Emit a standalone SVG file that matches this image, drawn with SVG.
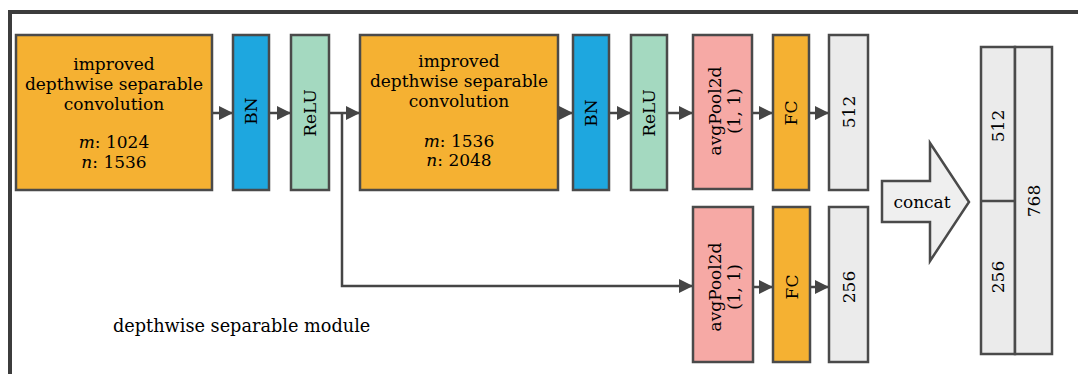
<svg xmlns="http://www.w3.org/2000/svg" width="1078" height="374" viewBox="0 0 1078 374">
<style>
.b{stroke:#4a4a4a;stroke-width:2.5}
.or{fill:#F5B132}.bl{fill:#1EA7DF}.gr{fill:#A4D9C0}.pk{fill:#F6A9A5}.gy{fill:#EBEBEB}
text{font-family:"DejaVu Serif","Liberation Serif",serif;font-size:17px;fill:#000}
.c{text-anchor:middle}
.it{font-style:italic}
.ln{stroke:#454545;stroke-width:2.5;fill:none}
</style>
<defs>
<marker id="ah" markerUnits="userSpaceOnUse" markerWidth="15" markerHeight="15" refX="14" refY="7.5" orient="auto">
<path d="M0,0.5 L14,7.5 L0,14.5 z" fill="#454545"/>
</marker>
</defs>
<g id="frame"><path d="M10,374 V12 H1078" fill="none" stroke="#3c3c3c" stroke-width="4"/></g>
<g id="connectors">
<line class="ln" x1="212" y1="113" x2="233" y2="113" marker-end="url(#ah)"/>
<line class="ln" x1="269" y1="113" x2="291" y2="113" marker-end="url(#ah)"/>
<line class="ln" x1="329" y1="113" x2="360" y2="113" marker-end="url(#ah)"/>
<line class="ln" x1="558" y1="113" x2="573" y2="113" marker-end="url(#ah)"/>
<line class="ln" x1="609" y1="113" x2="631" y2="113" marker-end="url(#ah)"/>
<line class="ln" x1="667" y1="113" x2="693" y2="113" marker-end="url(#ah)"/>
<line class="ln" x1="752" y1="113" x2="773" y2="113" marker-end="url(#ah)"/>
<line class="ln" x1="809" y1="113" x2="829" y2="113" marker-end="url(#ah)"/>
<path class="ln" d="M342,113 V286 H693" marker-end="url(#ah)"/>
<line class="ln" x1="753" y1="287" x2="773" y2="287" marker-end="url(#ah)"/>
<line class="ln" x1="810" y1="287" x2="829" y2="287" marker-end="url(#ah)"/>
</g>
<g id="conv1">
<rect class="b or" x="16" y="35" width="196" height="155"/>
<text class="c" x="114" y="70">improved</text>
<text class="c" x="114" y="90">depthwise separable</text>
<text class="c" x="114" y="110">convolution</text>
<text class="c" x="114" y="148"><tspan class="it">m</tspan>: 1024</text>
<text class="c" x="114" y="168"><tspan class="it">n</tspan>: 1536</text>
</g>
<g id="bn1"><rect class="b bl" x="233" y="35" width="36" height="155"/>
<text class="c" transform="translate(251,111) rotate(-90)" y="6">BN</text></g>
<g id="relu1"><rect class="b gr" x="291" y="35" width="38" height="155"/>
<text class="c" transform="translate(310,113) rotate(-90)" y="6">ReLU</text></g>
<g id="conv2">
<rect class="b or" x="360" y="35" width="198" height="155"/>
<text class="c" x="459" y="67">improved</text>
<text class="c" x="459" y="87">depthwise separable</text>
<text class="c" x="459" y="107">convolution</text>
<text class="c" x="459" y="147"><tspan class="it">m</tspan>: 1536</text>
<text class="c" x="459" y="166"><tspan class="it">n</tspan>: 2048</text>
</g>
<g id="bn2"><rect class="b bl" x="573" y="35" width="36" height="155"/>
<text class="c" transform="translate(591,113) rotate(-90)" y="6">BN</text></g>
<g id="relu2"><rect class="b gr" x="631" y="35" width="36" height="155"/>
<text class="c" transform="translate(649,113) rotate(-90)" y="6">ReLU</text></g>
<g id="pool1"><rect class="b pk" x="693" y="35" width="59" height="154"/>
<text class="c" transform="translate(722.5,111) rotate(-90)"><tspan x="0" y="-2">avgPool2d</tspan><tspan x="0" y="17">(1, 1)</tspan></text></g>
<g id="fc1"><rect class="b or" x="773" y="35" width="36" height="155"/>
<text class="c" transform="translate(791,113) rotate(-90)" y="6">FC</text></g>
<g id="out512"><rect class="b gy" x="829" y="35" width="39" height="155"/>
<text class="c" transform="translate(848.5,112) rotate(-90)" y="6">512</text></g>
<g id="pool2"><rect class="b pk" x="693" y="207" width="60" height="155"/>
<text class="c" transform="translate(723,287) rotate(-90)"><tspan x="0" y="-2">avgPool2d</tspan><tspan x="0" y="17">(1, 1)</tspan></text></g>
<g id="fc2"><rect class="b or" x="773" y="207" width="37" height="155"/>
<text class="c" transform="translate(791.5,287) rotate(-90)" y="6">FC</text></g>
<g id="out256"><rect class="b gy" x="829" y="207" width="39" height="155"/>
<text class="c" transform="translate(848.5,287) rotate(-90)" y="6">256</text></g>
<g id="concat">
<path class="b" d="M882,181 H930 V143 L969,202 L930,261 V222 H882 Z" fill="#EFEFEF"/>
<text class="c" x="922" y="208">concat</text>
</g>
<g id="merged">
<rect class="b gy" x="981" y="47" width="34" height="307"/>
<rect class="b gy" x="1015" y="47" width="37" height="307"/>
<line class="b" x1="981" y1="201" x2="1015" y2="201"/>
<text class="c" transform="translate(998,126) rotate(-90)" y="6">512</text>
<text class="c" transform="translate(998,277) rotate(-90)" y="6">256</text>
<text class="c" transform="translate(1033.5,201) rotate(-90)" y="6">768</text>
</g>
<text x="113" y="332" style="font-size:17.7px">depthwise separable module</text>
</svg>
